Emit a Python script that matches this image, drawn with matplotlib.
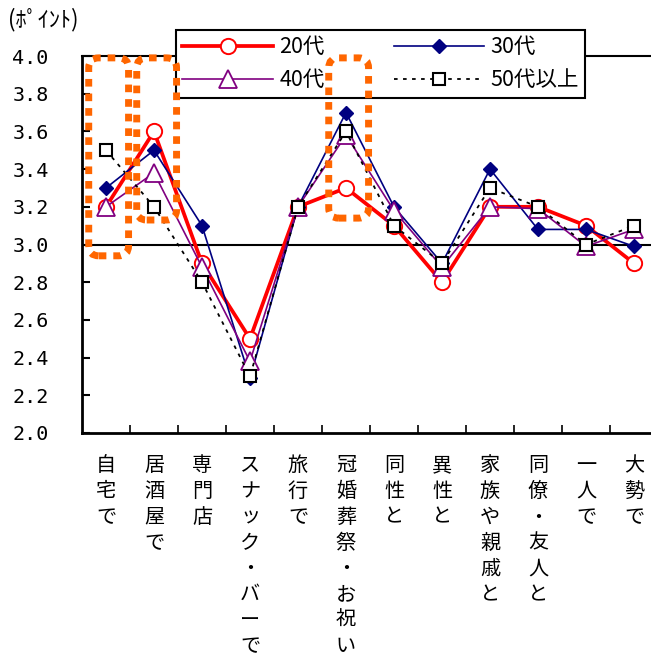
import matplotlib
matplotlib.use("Agg")
import matplotlib.pyplot as plt
from matplotlib.patches import FancyBboxPatch
from matplotlib.transforms import IdentityTransform

categories = ["自宅で", "居酒屋で", "専門店", "スナック・バーで", "旅行で", "冠婚葬祭・お祝い",
              "同性と", "異性と", "家族や親戚と", "同僚・友人と", "一人で", "大勢で"]
v20 = [3.2, 3.6, 2.9, 2.5, 3.2, 3.3, 3.1, 2.8, 3.2, 3.2, 3.1, 2.9]
v30 = [3.3, 3.5, 3.1, 2.29, 3.2, 3.7, 3.2, 2.9, 3.4, 3.08, 3.08, 2.99]
v40 = [3.2, 3.38, 2.88, 2.38, 3.2, 3.58, 3.18, 2.88, 3.2, 3.19, 2.99, 3.08]
v50 = [3.5, 3.2, 2.8, 2.3, 3.2, 3.6, 3.1, 2.9, 3.3, 3.2, 3.0, 3.1]
series_names = ["20代", "30代", "40代", "50代以上"]
yticks = [2.0, 2.2, 2.4, 2.6, 2.8, 3.0, 3.2, 3.4, 3.6, 3.8, 4.0]
highlight_cats = [0, 1, 5]
highlight_bottoms = [2.94, 3.13, 3.14]
highlight_top = 3.99

CJK = ["Noto Sans CJK JP", "DejaVu Sans"]
plt.rcParams["font.family"] = CJK

W, H = 651, 664
fig = plt.figure(figsize=(W / 100, H / 100), dpi=100)
left, right, bottom, top = 82, 658, 433, 56
ax = fig.add_axes([left / W, 1 - bottom / H, (right - left) / W, (bottom - top) / H])

x = list(range(len(categories)))
l20, = ax.plot(x, v20, color="#FF0000", lw=2.7, marker="o", ms=11, mfc="white",
               mec="#FF0000", mew=1.4, zorder=3, clip_on=False)
l30, = ax.plot(x, v30, color="#000080", lw=1.2, marker="D", ms=7, mfc="#000080",
               mec="#000080", zorder=4, clip_on=False)
l40, = ax.plot(x, v40, color="#800080", lw=1.2, marker="^", ms=13, mfc="white",
               mec="#800080", mew=1.3, zorder=5, clip_on=False)
l50, = ax.plot(x, v50, color="black", lw=1.3, ls=(0, (2, 3)), marker="s", ms=9,
               mfc="white", mec="black", mew=1.5, zorder=6, clip_on=False)

ax.axhline(3.0, color="black", lw=1.5, zorder=2)

ax.set_xlim(-0.5, len(categories) - 0.5)
ax.set_ylim(2.0, 4.0)
ax.set_yticks(yticks)
ax.set_yticklabels([f"{v:.1f}" for v in yticks], family="DejaVu Sans Mono", fontsize=14.5)
ax.tick_params(axis="y", direction="in", length=6, width=1.5, pad=24)

ax.set_xticks(x)
ax.set_xticklabels(["\n".join(c) for c in categories], fontsize=14.5, linespacing=1.3,
                   va="top")
ax.set_xticks([i + 0.5 for i in x[:-1]], minor=True)
ax.tick_params(axis="x", which="major", length=0, pad=16)
ax.tick_params(axis="x", which="minor", direction="in", length=6, width=1.2)

for s in ["left", "bottom"]:
    ax.spines[s].set_linewidth(2)
ax.spines["top"].set_linewidth(1.5)
ax.spines["right"].set_visible(False)

leg = fig.legend([l20, l40, l30, l50], [series_names[0], series_names[2], series_names[1], series_names[3]],
                 ncol=2, loc="upper left", bbox_to_anchor=(176 / W, 1 - 30 / H),
                 frameon=True, fancybox=False, edgecolor="black", framealpha=1,
                 fontsize=15.5, handlelength=4.2, columnspacing=3.2, handletextpad=0.3,
                 borderpad=0.3, labelspacing=0.5, borderaxespad=0)
leg.get_frame().set_linewidth(1.5)
leg.set_zorder(6)

# highlight boxes (drawn above the legend, as in the reference)
for c, yb in zip(highlight_cats, highlight_bottoms):
    x0, y0 = ax.transData.transform((c - 0.36, yb))
    x1, y1 = ax.transData.transform((c + 0.47, highlight_top))
    p = FancyBboxPatch((x0, y0), x1 - x0, y1 - y0,
                       boxstyle="round,pad=0,rounding_size=10",
                       transform=IdentityTransform(), fill=False,
                       edgecolor="#FF6600", lw=5, ls=(0, (1.1, 1.0)),
                       clip_on=False, zorder=8)
    fig.add_artist(p)

fig.text(8 / W, 1 - 20 / H, "(ﾎﾟｲﾝﾄ)", fontsize=16, va="center", ha="left")

fig.savefig("out.png", dpi=100)
